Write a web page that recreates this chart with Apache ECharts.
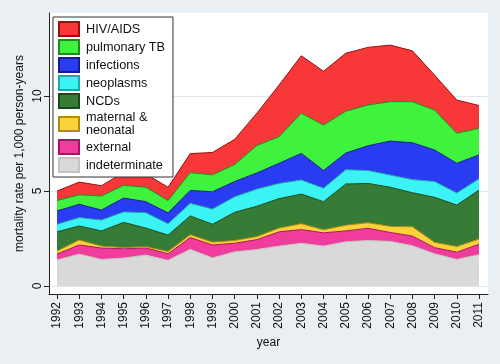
<!DOCTYPE html>
<html>
<head>
<meta charset="utf-8">
<script src="https://cdn.jsdelivr.net/npm/echarts@6/dist/echarts.min.js"></script>
<style>
html,body{margin:0;padding:0;background:#e9eff2;}
#c{width:500px;height:364px;}
</style>
</head>
<body>
<div id="c"></div>
<script>
const years = [1992,1993,1994,1995,1996,1997,1998,1999,2000,2001,2002,2003,2004,2005,2006,2007,2008,2009,2010,2011];
const indeterminate = [1.37,1.68,1.40,1.47,1.63,1.35,1.93,1.48,1.80,1.92,2.10,2.25,2.10,2.33,2.39,2.35,2.12,1.70,1.40,1.65];
const external      = [0.31,0.48,0.60,0.49,0.37,0.35,0.62,0.68,0.45,0.52,0.75,0.72,0.70,0.57,0.65,0.47,0.51,0.32,0.38,0.55];
const maternal      = [0.16,0.26,0.10,0.06,0.07,0.12,0.15,0.15,0.15,0.16,0.20,0.31,0.16,0.30,0.29,0.32,0.49,0.28,0.30,0.27];
const ncds          = [1.01,0.74,0.80,1.33,0.98,0.86,0.99,0.94,1.48,1.60,1.55,1.56,1.48,2.17,2.07,2.06,1.79,2.37,2.18,2.58];
const neoplasms     = [0.40,0.44,0.57,0.55,0.81,0.60,0.66,0.80,0.82,0.90,0.80,0.74,0.71,0.75,0.68,0.64,0.69,0.83,0.64,0.59];
const infections    = [0.70,0.70,0.53,0.73,0.58,0.57,0.68,0.91,0.80,0.85,1.06,1.40,0.93,0.88,1.30,1.79,1.94,1.66,1.56,1.26];
const pulmonaryTB   = [0.55,0.50,0.74,0.67,0.76,0.65,0.94,0.89,0.90,1.45,1.40,2.12,2.39,2.20,2.15,2.07,2.16,2.10,1.58,1.40];
const hivAids       = [0.50,0.67,0.54,0.68,0.70,0.70,1.00,1.18,1.32,1.70,2.72,3.02,2.83,3.05,3.03,2.98,2.68,1.84,1.75,1.20];
const yTicks = [0,5,10];

const layers = [
  {name:'indeterminate', data:indeterminate, fill:'#d9d9d9', edge:'#c4c4c4'},
  {name:'external', data:external, fill:'#f03c9c', edge:'#a8145e'},
  {name:'maternal & neonatal', data:maternal, fill:'#fad23c', edge:'#b08a10'},
  {name:'NCDs', data:ncds, fill:'#367b36', edge:'#1c4a1c'},
  {name:'neoplasms', data:neoplasms, fill:'#3cf3f3', edge:'#1fa8a8'},
  {name:'infections', data:infections, fill:'#2a3cf2', edge:'#151e8a'},
  {name:'pulmonary TB', data:pulmonaryTB, fill:'#3ef23e', edge:'#1d8a1d'},
  {name:'HIV/AIDS', data:hivAids, fill:'#f83838', edge:'#9a1010'}
];

const font = "'Liberation Sans', Arial, sans-serif";
const Y_MIN = -0.42, Y_MAX = 14.37;
const chart = echarts.init(document.getElementById('c'), null, {renderer:'canvas'});
chart.setOption({
  backgroundColor:'#e9eff2',
  animation:false,
  textStyle:{fontFamily:font},
  grid:[
    {left:49, right:12, top:13, bottom:70, show:true, backgroundColor:'#ffffff', borderWidth:0, z:0},
    {left:57, right:21, top:13, bottom:70, show:false}
  ],
  legend:{
    orient:'vertical', left:53, top:17,
    padding:[4,8,4,5],
    backgroundColor:'#ffffff', borderColor:'#333333', borderWidth:1,
    itemWidth:20, itemHeight:14, itemGap:2,
    icon:'rect', selectedMode:false,
    data:layers.map(l=>l.name).reverse(),
    formatter: n => n === 'maternal & neonatal' ? 'maternal &\nneonatal' : n,
    textStyle:{fontFamily:font, fontSize:12.7, color:'#111', lineHeight:13, padding:[0,0,0,2]}
  },
  xAxis:[{
    gridIndex:0, type:'value', min:1991.64, max:2011.4,
    name:'year', nameLocation:'middle', nameGap:41,
    nameTextStyle:{fontFamily:font, fontSize:12, color:'#111'},
    axisLine:{show:true, onZero:false, lineStyle:{color:'#222', width:1}},
    axisTick:{show:true, length:5, customValues:years, lineStyle:{color:'#222'}},
    axisLabel:{rotate:90, margin:8, fontSize:12, color:'#111', customValues:years, formatter:v=>String(Math.round(v))},
    splitLine:{show:false}
  },{
    gridIndex:1, type:'category', boundaryGap:false, data:years.map(String),
    show:false
  }],
  yAxis:[{
    gridIndex:0, type:'value', min:Y_MIN, max:Y_MAX,
    name:'mortality rate per 1,000 person-years', nameLocation:'middle', nameGap:23,
    nameMoveOverlap:false,
    nameTextStyle:{fontFamily:font, fontSize:12, color:'#111'},
    axisLine:{show:true, onZero:false, lineStyle:{color:'#222', width:1}},
    axisTick:{show:true, length:5, customValues:yTicks, lineStyle:{color:'#222'}},
    axisLabel:{rotate:90, margin:5, fontSize:12, color:'#111', customValues:yTicks},
    splitLine:{show:true, lineStyle:{color:'#e0e6e9', width:1}}
  },{
    gridIndex:1, type:'value', min:Y_MIN, max:Y_MAX, show:false, splitLine:{show:false}
  }],
  series: layers.map(l=>({
    name:l.name, type:'line', stack:'total', symbol:'none', smooth:false,
    xAxisIndex:1, yAxisIndex:1, z:3,
    data: l.data,
    itemStyle:{color:l.fill, borderColor:l.edge, borderWidth:1},
    lineStyle:{color:l.edge, width:1},
    areaStyle:{color:l.fill, opacity:1}
  }))
});
</script>
</body>
</html>
